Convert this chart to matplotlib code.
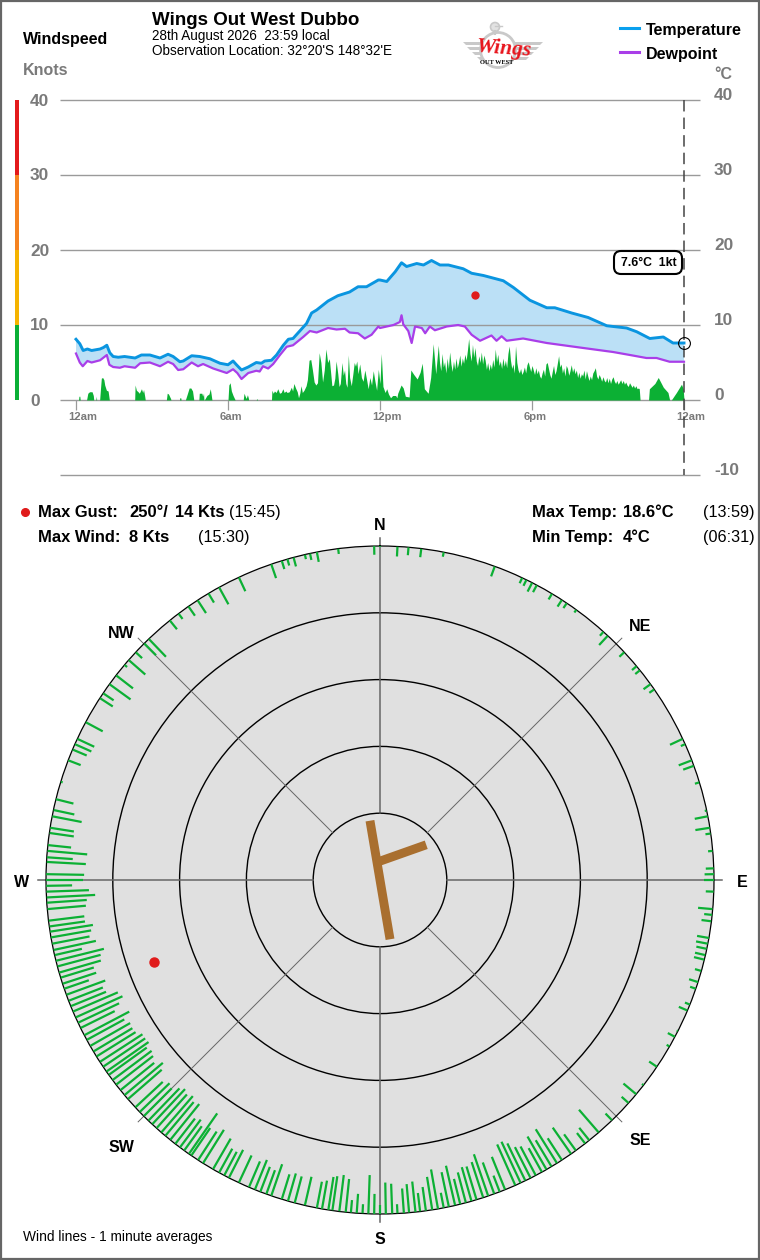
import numpy as np
import matplotlib
matplotlib.use("Agg")
import matplotlib.pyplot as plt
from matplotlib.patches import Rectangle, Circle, Polygon, FancyBboxPatch

plt.rcParams['font.family'] = ['Liberation Sans', 'DejaVu Sans']

# Temperature and dewpoint, minutes after midnight / deg C
temp_min = [0, 9, 17, 27, 37, 57, 65, 73, 80, 88, 100, 115, 140, 155, 175, 199, 218, 230, 246, 254, 274, 293, 317,
            341, 360, 372, 380, 392, 408, 427, 439, 447, 463, 475, 491, 503, 514, 530, 546, 558, 570, 597, 620, 648,
            668, 688, 716, 720, 736, 756, 771, 783, 807, 823, 842, 862, 882, 917, 937, 965, 1012, 1036, 1075, 1115,
            1134, 1174, 1213, 1257, 1304, 1328, 1359, 1391, 1414, 1440]
temp_c = [8.1, 7.5, 6.6, 6.8, 6.6, 6.8, 7.0, 7.3, 6.3, 5.8, 5.7, 5.8, 5.6, 6.0, 6.0, 5.6, 6.1, 5.8, 5.1, 5.2, 5.9,
          5.8, 5.5, 4.9, 4.7, 5.2, 4.7, 4.0, 4.4, 5.0, 4.9, 5.2, 5.3, 6.0, 7.3, 8.1, 8.2, 9.2, 10.2, 11.6, 12.0,
          13.2, 13.9, 14.4, 15.1, 15.1, 16.0, 16.0, 15.8, 17.1, 18.3, 17.8, 18.2, 18.0, 18.6, 18.0, 18.0, 17.5, 16.9,
          16.6, 15.9, 15.0, 13.3, 12.3, 12.3, 11.6, 11.0, 9.9, 9.6, 9.1, 8.2, 8.4, 7.6, 7.6]
dew_min = [0, 9, 16, 27, 37, 57, 73, 79, 88, 104, 115, 140, 152, 175, 199, 218, 230, 242, 254, 274, 289, 301, 325,
           357, 372, 382, 392, 408, 427, 435, 443, 455, 467, 483, 499, 514, 538, 554, 570, 597, 617, 637, 648, 668,
           684, 700, 716, 720, 736, 752, 767, 771, 775, 787, 795, 803, 819, 827, 838, 850, 878, 905, 921, 937, 957,
           984, 996, 1008, 1020, 1059, 1115, 1193, 1272, 1312, 1351, 1375, 1406, 1440]
dew_c = [6.2, 5.0, 4.5, 5.2, 5.0, 5.3, 6.0, 4.7, 4.4, 4.3, 4.5, 4.3, 4.9, 5.0, 4.5, 5.1, 4.8, 4.0, 4.1, 5.0, 4.5,
         4.8, 4.2, 3.6, 4.1, 3.6, 2.8, 3.6, 3.9, 3.8, 4.5, 4.2, 4.8, 6.0, 7.1, 7.3, 8.4, 9.2, 9.0, 9.6, 9.4, 9.5,
         9.0, 8.9, 8.2, 8.7, 9.8, 9.6, 9.8, 10.0, 10.4, 11.3, 10.1, 9.2, 7.6, 9.8, 9.6, 8.9, 9.8, 9.3, 9.8, 10.0,
         9.8, 8.7, 7.9, 8.6, 7.9, 8.5, 7.9, 8.2, 7.6, 7.0, 6.4, 6.0, 5.6, 5.6, 5.1, 5.1]

# Wind speed, minutes after midnight / knots. Morning part read point by point
wind_min_am = [0, 6, 7, 9, 10, 25, 28, 32, 38, 41, 42, 47, 48, 49, 56, 58, 60, 63, 66, 68, 72, 76, 79, 139, 140, 143,
               147, 150, 155, 158, 160, 163, 164, 214, 216, 219, 224, 225, 245, 246, 248, 249, 259, 263, 268, 272, 276,
               279, 291, 292, 298, 300, 302, 303, 304, 310, 315, 318, 320, 322, 360, 362, 365, 368, 372, 377, 396, 398,
               400, 403, 406, 408, 409, 427, 428, 430, 463, 464, 467, 470, 474, 478, 482, 486, 490, 493, 497, 500, 505,
               510, 513, 516, 520, 524, 527, 530, 533, 536, 540, 545, 548, 552, 556, 560, 564, 568, 572, 576, 580, 584,
               588, 592, 596, 600, 603, 606, 610, 613, 616, 620, 623, 626, 630, 633, 636, 639, 642, 645, 648, 652, 656,
               659, 662, 665, 668, 672, 676, 680, 684, 688, 692, 696, 700, 704, 708, 712, 716, 720, 723, 727, 732, 736,
               740, 745, 750, 757, 760, 762, 770, 775, 780, 789, 793, 800, 808, 815, 820, 825, 834, 840, 846, 852, 858]
wind_kt_am = [0, 0, .5, .5, 0, 0, .9, 1.1, 1.1, .6, 0, 0, .5, 0, 0, 1.5, 2.9, 3.0, 2.7, 2.0, 1.3, 1.2, 0, 0, 2.0, 1.3,
              1.1, .9, 1.5, 1.0, 1.4, .4, 0, 0, .9, .8, .2, 0, 0, .3, .3, 0, 0, .7, 1.6, 1.6, 1.2,
              0, 0, .9, .9, .5, .9, 0, 0, .6, .8, 1.5, .8, 0, 0, 2.0, 2.3, 1.2, .6, 0, 0, .9,
              .6, .2, .7, .3, 0, 0, .2, 0, 0, 1.3, .9, 1.2, 1.0, 1.5, .9, 1.0, 1.5, 1.0, 1.2, 1.0, 1.1,
              1.7, 1.2, 2.2, 1.6, 1.1, .3, .9, 1.9, 1.0, 1.3, 1.9, 2.7, 5.3, 5.4, 4.0, 2.4, 2.0, 2.3, 6.3, 5.0, 2.4,
              4.0, 6.8, 5.0, 5.5, 3.7, 1.9, 2.0, 2.9, 5.2, 3.5, 1.8, 2.2, 5.0, 3.3, 4.0, 2.2, 1.7, 6.0, 3.0, 1.9, 3.6,
              5.0, 4.5, 5.2, 3.5, 4.8, 3.0, 2.5, 4.0, 2.8, 1.5, 3.0, 2.0, 3.9, 2.5, 1.3, 4.1, 2.2, 6.2, 1.8, 1.0, 1.5,
              .8, .3, .6, .6, .3, .9, 2.0, 1.6, .5, .4, 4.0, 3.4, 2.8, 3.7, 4.9, 1.5, .9, 3.0, 7.5, 3.5, 7.3]
# Afternoon part, one reading every 3 minutes from 861 to 1332
wind_kt_pm = [5.0, 3.9, 6.2, 4.4, 5.1, 3.6, 5.6, 4.2, 6.4, 4.8, 3.8, 5.2, 4.1, 5.6, 4.3, 5.0, 6.0, 4.5, 5.6, 4.9,
              6.1, 5.3, 6.6, 8.2, 6.2, 5.2, 7.4, 5.7, 7.0, 5.2, 4.6, 5.9, 5.0, 6.4, 4.8, 6.0, 5.3, 4.1, 5.0, 3.9,
              4.8, 4.1, 5.4, 4.4, 6.8, 5.1, 6.1, 4.6, 5.2, 4.2, 5.6, 4.5, 5.3, 4.3, 6.2, 7.2, 5.3, 4.2, 4.8, 3.6,
              7.2, 5.0, 4.0, 3.6, 4.2, 3.4, 3.8, 4.4, 3.6, 4.7, 5.1, 4.4, 3.8, 4.6, 4.0, 3.4, 4.3, 3.5, 4.0, 3.2,
              2.9, 3.6, 4.1, 3.2, 4.8, 5.0, 4.2, 3.4, 2.9, 3.8, 4.6, 3.4, 3.9, 4.9, 5.9, 4.4, 4.8, 3.6, 4.3, 3.2,
              4.6, 4.2, 3.3, 3.9, 4.7, 3.7, 4.3, 3.5, 4.0, 3.0, 3.7, 2.9, 3.5, 3.2, 4.0, 2.8, 3.9, 3.2, 2.6, 3.2,
              2.7, 3.6, 3.9, 4.3, 3.2, 2.8, 3.4, 3.0, 2.5, 3.1, 2.6, 2.4, 3.0, 2.3, 2.9, 2.2, 2.8, 3.1, 2.5, 2.2,
              2.6, 2.1, 2.4, 2.7, 2.2, 2.6, 2.1, 2.4, 2.0, 1.8, 2.3, 2.0, 1.7, 2.0, 1.6, 1.9, 1.5, 1.6]
wind_min_pm = list(range(861, 1335, 3))
wind_min_end = [1334, 1336, 1356, 1358, 1371, 1379, 1391, 1402, 1406, 1410, 1422, 1434, 1438, 1440]
wind_kt_end = [1.5, 0, 0, 1.5, 2.2, 3.0, 1.7, 1.0, 0, 0, 1.0, 2.1, 1.5, 0]
wind_min = wind_min_am + wind_min_pm + wind_min_end
wind_kt = wind_kt_am + wind_kt_pm + wind_kt_end

# One minute wind lines: direction in degrees and speed in knots
wind_dir = [0, 3, 4.9, 7.1, 11, 20.1, 25.2, 26, 27.1, 28, 31, 33, 34, 36, 42, 43, 47, 50.2, 51.1, 54.1, 55.2, 65, 66,
            69, 70, 73, 78, 79, 81, 82, 85, 88, 89, 90, 92, 95, 96, 97.1, 100, 101, 101.9, 103, 103.8, 105.8, 107.8,
            109, 111.9, 113, 116.9, 118, 119.9, 124, 127.9, 129.9, 131.9, 136, 139.1, 141.2, 142.1, 144.1, 145.1,
            147, 148, 149.1, 150.1, 151, 152.2, 153.2, 154.2, 155.1, 156.1, 158, 159, 160, 161.1, 162, 163.2,
            164.1, 165.1, 166.1, 167, 168.1, 169, 170, 171, 172.1, 173.1, 173.9, 175, 175.9, 177, 177.9, 179,
            180, 181, 182, 183, 184, 185, 185.9, 187, 188.2, 188.9, 190, 190.9, 193, 194.8, 196, 197.1, 199, 199.9,
            201, 202, 203.1, 205, 206.9, 207.8, 208.8, 210, 212, 213, 214.4, 214.9, 215.9, 216.8, 217.8, 218.9,
            220, 220.9, 222, 223, 223.9, 225, 226, 227.1, 229, 229.9, 231, 232.2, 233.2, 234.3, 235, 236, 237,
            238.1, 239.1, 240.2, 241.4, 242.3, 243.7, 244.7, 245.7, 246.8, 247.8, 248.8, 249.9, 251, 251.9, 253,
            253.9, 255, 256, 257, 257.9, 259, 260.1, 261.1, 262, 263, 265, 266.1, 267, 268, 269, 270, 271, 273.1,
            273.9, 275, 276, 278.1, 279, 281, 282.1, 284, 287.1, 291, 293, 294, 295, 298.2, 303, 304, 305.9, 307.8,
            310.1, 311.2, 313, 315.1, 316.2, 321, 322.9, 325, 326.9, 329.1, 331.2, 335, 341, 342.9, 343.9, 345, 347,
            347.9, 349.1, 352.8, 359]
wind_spd = [.2, 1.5, 1.2, 1.3, .7, 1.6, .9, 1, 1.5, 1.2, 1, 1.2, .9, .5, .8, 1.9, 1, .9, .9, 1.3, .9, 2.1, .7,
            2.1, 1.7, .7, .3, 2, 2.2, .8, .7, 1.2, 1.4, 1.5, 1.2, 2.2, 1.2, 1.5, 1.8, 1.8, 1.6, 1.6, 1.6, 1, 1.4,
            .9, .8, 1.4, .2, 1.2, .5, 1.4, .3, 2.5, 1.4, 1.4, 4.5, 2.4, 2, 3, 4.8,
            3.9, 6, 4.6, 5.7, 4.1, 4.9, 5.2, 6.2, 6.8, 6.7, 5.3, 2.6, 5, 6.6, 5.6, 5.2,
            5.3, 4.7, 3.9, 6.1, 5.3, 2.3, 6, 5, 3.6, 2.8, 4.6, 4.3, 3.7, 1.4, 4.5, 4.7,
            1.4, 3, 5.8, 1.4, 2.9, 1.9, 5, 5.5, 5.2, 5, 4.3, 4, 4.4, 4.1, 4.3, 3.9, 5, 3.8,
            4, 4.8, 4.2, 4.5, 4.7, 4, 4.1, 5.3, 5.9, 5.1, 5, 7.4, 4.5, 5.2, 4.8, 6.9,
            6.6, 7.2, 6.8, 7.2, 6.7, 5.9, 6.2, 5.6, 6.7, 7.5, 6.5, 7, 7.3, 7, 7.7, 7.6, 7.6,
            6.9, 6.8, 6.9, 6.4, 7.6, 5.7, 6.8, 7.7, 7.3, 5.7, 5.5, 6.2, 3.9, 5.3, 5.2,
            6.5, 6.7, 7.4, 4.2, 6.5, 5.7, 6.1, 6.5, 5.4, 5.4, 5.8, 6, 7.3, 6.4, 3.9, 5.6, 5.7, 5.9,
            3.9, 6, 3.5, 3.7, 3.6, 4.5, 3.2, 2.7, .3, 2, 2.3, 2.7, 2.8, 2.9, 2.3, 1.9, 3.9, 3.2,
            .5, 3.3, 1.3, 2.5, 3.7, 1.7, 1, 1.7, 2.3, 1.6, 2.9, 2.3, 2.2, 1.3, 1, 1.4, .7,
            1, 1.5, .8, 1.3]

# Maximum gust
gust_min = 945
gust_dir = 250
gust_kt = 14
last_temp = 7.6

# Airstrip runways, direction (deg) and radius (knots from the rim)
runway_a_dir = [350.4, 170.4]
runway_a_r = [41.0, 41.0]
runway_b_dir = [350.5, 52.7]
runway_b_r = [47.3, 41.3]

# Ticks and labels
knot_ticks = [0, 10, 20, 30, 40]
temp_ticks = [-10, 0, 10, 20, 30, 40]
time_ticks = [0, 360, 720, 1080, 1440]
time_labels = ['12am', '6am', '12pm', '6pm', '12am']
band_colors = ['#0aaf36', '#f5b400', '#f58220', '#e31a1c']
ring_knots = [10, 20, 30, 40]
main_dirs = [0, 90, 180, 270]
diag_dirs = [45, 135, 225, 315]
dir_labels = [('N', 380, 524), ('NE', 640, 625), ('E', 742, 881), ('SE', 640, 1139),
              ('S', 380, 1238), ('SW', 121, 1146), ('W', 22, 881), ('NW', 121, 632)]

GREEN = '#0cb034'
GREY = '#7a7a7a'
W, H = 760, 1260
PX = 1440 / 608  # minutes per pixel on the chart

fig = plt.figure(figsize=(W / 100, H / 100), dpi=100)

# Top chart: grid runs 60-700 px across, 100-475 px down
ax = fig.add_axes([60 / W, 1 - 475 / H, 640 / W, 375 / H])
ax.set_xlim(-16 * PX, 624 * PX)
ax.set_ylim(-10, 40)
ax.axis('off')

ax.fill(list(temp_min) + dew_min[::-1], list(temp_c) + dew_c[::-1], color='#bbe0f6', lw=0, zorder=1)
ax.hlines(temp_ticks, -16 * PX, 624 * PX, color='#9a9a9a', lw=1.0, zorder=2, clip_on=False)
ax.fill_between(wind_min, wind_kt, 0, color=GREEN, lw=0, zorder=3)
ax.plot(dew_min, dew_c, color='#a93ee8', lw=1.6, zorder=4)
ax.plot(temp_min, temp_c, color='#0a95e0', lw=2.1, zorder=5)
ax.vlines(time_ticks, -10 / 7.5, 0, color='#9a9a9a', lw=0.9, zorder=2)
ax.plot([1440, 1440], [40, -10], color='#444444', lw=1.1, ls=(0, (7.5, 4)), zorder=6)
ax.plot([1440], [last_temp], 'o', mfc='none', mec='black', mew=0.8, ms=8.5, zorder=7)
ax.plot([gust_min], [gust_kt], 'o', color='#e01b1b', ms=5, zorder=7)

for t, lab in zip(time_ticks, time_labels):
    ax.annotate(lab, (t, 0), xytext=(-5.8, -12), textcoords='offset points', ha='left', va='center',
                fontsize=8.1, fontweight='bold', color=GREY, annotation_clip=False)
for k in knot_ticks:
    ax.text(-46 * PX, k - 1 / 7.5, str(k), ha='left', va='center', fontsize=12.4, fontweight='bold', color=GREY, clip_on=False)
for c in temp_ticks:
    ax.text(638 * PX, c + 4.5 / 7.5, str(c), ha='left', va='center', fontsize=12.4, fontweight='bold', color=GREY, clip_on=False)
for k, col in zip(knot_ticks[:-1], band_colors):
    ax.bar(-59 * PX, 10, bottom=k, width=4 * PX, color=col, lw=0, clip_on=False)

# Wind rose, centre (380, 880), rim radius 334 px = 50 kts from the rim
pol = fig.add_axes([46 / W, 1 - 1214 / H, 668 / W, 668 / H], projection='polar')
pol.set_theta_zero_location('N')
pol.set_theta_direction(-1)
pol.set_rlim(50, 0)
pol.set_facecolor('#e0e0e0')
pol.set_xticks([])
pol.set_yticks(ring_knots)
pol.set_yticklabels([])
pol.yaxis.grid(True, color='black', lw=1.0)
pol.tick_params(length=0)
pol.spines['polar'].set_linewidth(0.9)

for d in main_dirs:
    pol.plot([np.radians(d)] * 2, [-1.2, 40], color='#666666', lw=1.1, clip_on=False, zorder=2)
for d in diag_dirs:
    pol.plot([np.radians(d)] * 2, [-1.2, 40], color='#666666', lw=0.7, clip_on=False, zorder=2)
pol.vlines(np.radians(wind_dir), 0, wind_spd, color=GREEN, lw=1.6, zorder=3)
pol.plot(np.radians(runway_a_dir), runway_a_r, color='#a96f2f', lw=6.4, solid_capstyle='butt', zorder=4)
pol.plot(np.radians(runway_b_dir), runway_b_r, color='#a96f2f', lw=6.4, solid_capstyle='butt', zorder=4)
pol.plot([np.radians(gust_dir)], [gust_kt], 'o', color='#e01b1b', ms=6.5, zorder=5)
pol.set_rlim(50, 0)

# Everything else is placed in page pixels
page = fig.add_axes([0, 0, 1, 1], zorder=10)
page.set_xlim(0, W)
page.set_ylim(H, 0)
page.axis('off')
page.patch.set_alpha(0)
page.add_patch(Rectangle((1, 1), W - 2, H - 2, fill=False, ec='#666666', lw=1.6))


def label(x, y, s, size, bold=False, color='black', ha='left', **kw):
    page.text(x, y + 1.2, s, fontsize=size * 0.72, fontweight='bold' if bold else 'normal', color=color,
              ha=ha, va='center', **kw)


label(152, 19, 'Wings Out West Dubbo', 18.8, True)
label(152, 35, '28th August 2026  23:59 local', 13.5)
label(152, 50, "Observation Location: 32°20'S 148°32'E", 13.5)
label(23, 38.5, 'Windspeed', 16, True)
label(23, 69, 'Knots', 16, True, GREY)
label(714, 73.5, '°C', 16, True, GREY)

page.plot([620, 639], [28, 28], color='#0aa0ee', lw=2.2)
page.plot([620, 639], [52, 52], color='#a93ee8', lw=2.2)
label(646, 29, 'Temperature', 16, True)
label(646, 53.5, 'Dewpoint', 16, True)

page.add_patch(FancyBboxPatch((619, 256), 58, 13, boxstyle='round,pad=5,rounding_size=7', fc='white', ec='black', lw=1.5))
label(649, 262, '7.6°C  1kt', 12.2, True, ha='center')

page.plot([25], [512], 'o', color='#e01b1b', ms=5.5)
label(38, 511, 'Max Gust:', 16.5, True)
label(129, 511, '250°/', 16.5, True)
label(175, 511, '14 Kts', 16.5, True)
label(229, 511, '(15:45)', 16.2)
label(38, 536, 'Max Wind:', 16.5, True)
label(129, 536, '8 Kts', 16.5, True)
label(198, 536, '(15:30)', 16.2)
label(532, 511, 'Max Temp:', 16.5, True)
label(623, 511, '18.6°C', 16.5, True)
label(703, 511, '(13:59)', 16.2)
label(532, 536, 'Min Temp:', 16.5, True)
label(623, 536, '4°C', 16.5, True)
label(703, 536, '(06:31)', 16.2)

for s, x, y in dir_labels:
    label(x, y, s, 16, True, ha='center')
label(23, 1236, 'Wind lines - 1 minute averages', 13.75)

# Logo, rough drawing of the club badge
logo_grey = '#c9c9c9'
for y0, inset in [(42, 0), (47, 4), (52, 9), (57, 14)]:
    page.add_patch(Polygon([(463 + inset, y0), (485, y0), (485, y0 + 3), (466 + inset, y0 + 3)], color=logo_grey, lw=0))
    page.add_patch(Polygon([(543 - inset, y0), (511, y0), (511, y0 + 3), (540 - inset, y0 + 3)], color=logo_grey, lw=0))
page.add_patch(Circle((498, 50), 17.5, fc='white', ec=logo_grey, lw=2))
page.add_patch(Circle((495, 27), 4.5, fc='#e2e2e2', ec=logo_grey, lw=1.2))
page.plot([495, 502], [26, 26], color=logo_grey, lw=1)
page.plot([494.5, 494.5], [31, 34], color=logo_grey, lw=1.5)
page.text(504, 49, 'Wings', fontsize=15.5, family='Liberation Serif', style='italic', fontweight='bold', color='#e8141c',
          ha='center', va='center', rotation=-4)
label(497, 61, 'OUT WEST', 6.4, True, ha='center', family='Liberation Serif')

fig.savefig('out.png', dpi=100)
